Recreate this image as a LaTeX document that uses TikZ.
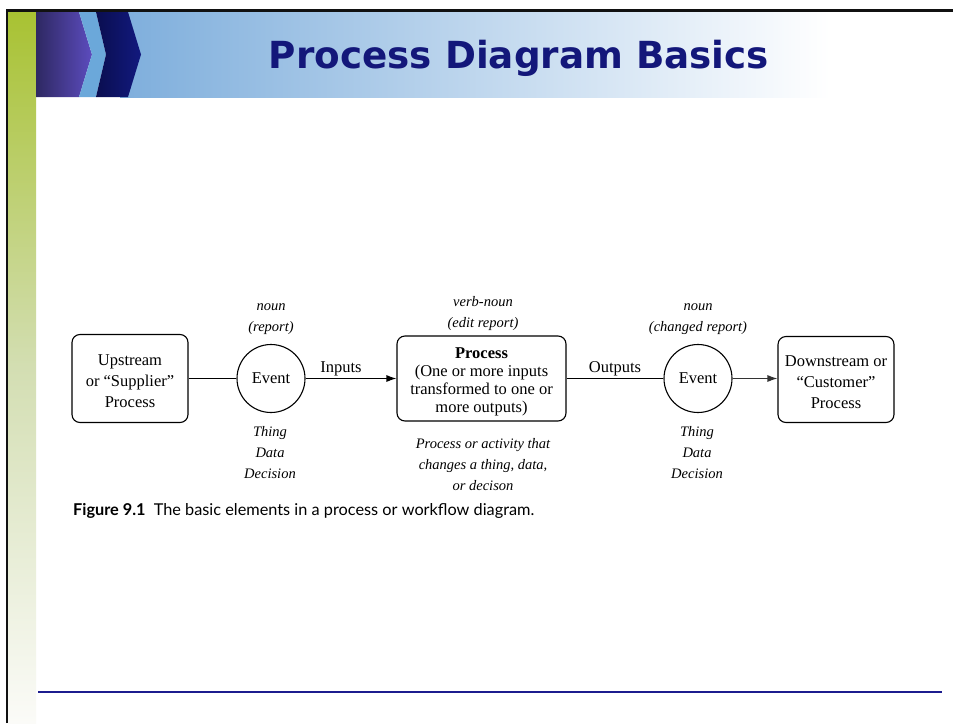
\documentclass[tikz,border=0pt]{standalone}
\usepackage{fontspec}
\setmainfont{Liberation Serif}
\newfontfamily\titlefont{DejaVu Sans}
\newfontfamily\capfont{Lato}
\usetikzlibrary{arrows.meta}

\definecolor{frameblack}{HTML}{111111}
\definecolor{leafgreen}{HTML}{A8C232}
\definecolor{leafmid}{HTML}{D3DEB2}
\definecolor{leafpale}{HTML}{FBFBF8}
\definecolor{skyblue}{HTML}{7EAEDC}
\definecolor{stripeblue}{HTML}{6BA8DA}
\definecolor{plumdark}{HTML}{2E2862}
\definecolor{plumlight}{HTML}{5C4CBE}
\definecolor{navydark}{HTML}{0A0E50}
\definecolor{navylight}{HTML}{12197E}
\definecolor{titlenavy}{HTML}{13177A}
\definecolor{rulenavy}{HTML}{1C1C8E}

\begin{document}
\begin{tikzpicture}[x=1pt,y=-1pt,
  procbox/.style={draw, rounded corners=8pt, line width=1.1pt, inner sep=0pt},
  boxtext/.style={align=center, inner sep=0pt, yshift=-3pt,
    font=\fontsize{16.5}{21}\selectfont},
  eventnode/.style={draw, circle, minimum size=68pt, line width=1.1pt,
    inner sep=0pt, font=\fontsize{16.5}{20}\selectfont},
  note/.style={align=center, inner sep=0pt, font=\itshape\fontsize{14.5}{21}\selectfont},
  flowlabel/.style={font=\fontsize{16.5}{20}\selectfont, inner sep=2pt},
  link/.style={line width=1.1pt},
  flow/.style={line width=1.1pt, -{Latex[length=10pt,width=7pt]}}]

\useasboundingbox (0,0) rectangle (953,723);
\fill[white] (0,0) rectangle (953,723);

% green side bar
\shade[top color=leafgreen, bottom color=leafpale, middle color=leafmid]
  (8,11) rectangle (36,723);

% header band
\shade[left color=skyblue, right color=white] (120,12) rectangle (830,97);
\shade[left color=plumdark, right color=plumlight]
  (36,12) -- (79,12) -- (92,54.5) -- (79,97) -- (36,97) -- cycle;
\fill[stripeblue]
  (79,12) -- (96,12) -- (106,54.5) -- (96,97) -- (79,97) -- (92,54.5) -- cycle;
\shade[left color=navydark, right color=navylight]
  (96,12) -- (128,12) -- (141,54.5) -- (128,97) -- (96,97) -- (106,54.5) -- cycle;

% frame
\draw[frameblack, line width=2.6pt] (7,723) -- (7,10.5) -- (953,10.5);

\node[font=\titlefont\bfseries\fontsize{37.3}{40}\selectfont, text=titlenavy,
  anchor=base, inner sep=0pt] (title) at (519,68) {Process Diagram Basics};

% footer rule
\draw[rulenavy, line width=1.3pt] (38,692) -- (942,692);

% process elements
\node[procbox, minimum width=116pt, minimum height=88pt,
  label={[boxtext]center:Upstream\\ or “Supplier”\\ Process}] (up) at (130,378.5) {};
\node[eventnode] (ev1) at (271,378.5) {Event};
\node[procbox, minimum width=169pt, minimum height=85pt,
  label={[boxtext, font=\fontsize{16.5}{18}\selectfont]center:\textbf{Process}\\ (One or more inputs\\ transformed to one or\\ more outputs)}]
  (proc) at (481.5,378.5) {};
\node[eventnode] (ev2) at (698,378.5) {Event};
\node[procbox, minimum width=116pt, minimum height=86pt,
  label={[boxtext]center:Downstream or\\ “Customer”\\ Process}] (down) at (836,379.5) {};

\draw[link] (up) -- (ev1);
\draw[flow] (ev1) -- node[flowlabel, pos=0.39, above] (inlbl) {Inputs} (proc);
\draw[link] (proc) -- node[flowlabel, midway, above] (outlbl) {Outputs} (ev2);
\draw[flow, draw=black!80] (ev2.east) -- (ev2.east -| down.west);

% annotations
\node[note] (n1) at (271,319) {noun\\ (report)};
\node[note] (n2) at (483,313.5) {verb-noun\\ (edit report)};
\node[note] (n3) at (698,319) {noun\\ (changed report)};
\node[note] (t1) at (270,453) {Thing\\ Data\\ Decision};
\node[note] (t2) at (483,465) {Process or activity that\\ changes a thing, data,\\ or decison};
\node[note] (t3) at (697,453) {Thing\\ Data\\ Decision};

% caption
\node[font=\capfont\fontsize{16.3}{20}\selectfont, anchor=base west, inner sep=0pt]
  (caption) at (73,515)
  {\textbf{Figure 9.1}\hspace{0.5em}The basic elements in a process or workflow diagram.};
\end{tikzpicture}
\end{document}
